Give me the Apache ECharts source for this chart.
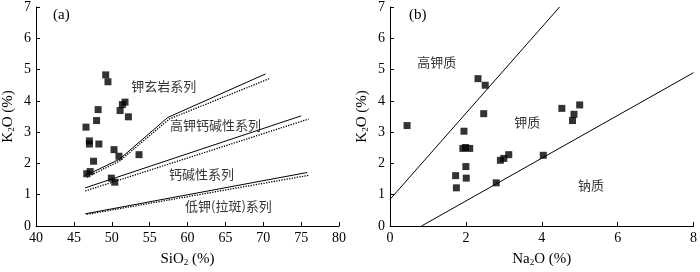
<!DOCTYPE html>
<html><head><meta charset="utf-8">
<script src="https://cdn.jsdelivr.net/npm/echarts@6/dist/echarts.min.js"></script>
<style>html,body{margin:0;padding:0;background:#fff}#c{width:700px;height:272px}</style>
</head><body><div id="c"></div>
<script>
// ---- Data (a): SiO2 vs K2O ----
const sioX = [49.2,49.5,51.75,51.4,51.1,52.2,48.2,48.0,46.6,47.05,47.05,48.3,50.3,50.95,53.6,47.6,47.15,46.7,49.95,50.4];
const k2oA = [4.83,4.61,3.96,3.88,3.69,3.49,3.72,3.37,3.16,2.72,2.62,2.62,2.44,2.23,2.28,2.07,1.74,1.67,1.53,1.40];
// boundary lines (a)
const shoSolid = [[46.5,1.61],[51.0,2.13],[57.4,3.47],[70.3,4.86]];
const shoDot   = [[46.7,1.56],[51.0,2.07],[57.6,3.42],[70.8,4.71]];
const hkSolid  = [[46.5,1.22],[75.0,3.52]];
const hkDot    = [[46.5,1.12],[76.0,3.42]];
const lkSolid  = [[46.5,0.39],[75.8,1.71]];
const lkDot    = [[46.7,0.37],[76.0,1.62]];
const labelsA  = [[56.85,4.46,'钾玄岩系列'],[63.7,3.22,'高钾钙碱性系列'],[61.85,1.67,'钙碱性系列'],[65.4,0.65,'低钾(拉斑)系列']];
// ---- Data (b): Na2O vs K2O ----
const na2oX = [0.45,2.32,2.51,2.47,1.95,1.92,1.99,2.10,2.0,1.73,2.01,1.75,2.80,2.91,3.0,3.13,4.04,4.53,5.0,4.85,4.81];
const k2oB  = [3.21,4.71,4.50,3.59,3.03,2.48,2.51,2.48,1.90,1.61,1.53,1.22,1.38,2.10,2.16,2.28,2.26,3.76,3.87,3.57,3.37];
const lineB1 = [[0,0.85],[4.47,7]];
const lineB2 = [[0.83,0],[8,4.9]];
const labelsB = [[1.23,5.23,'高钾质'],[3.62,3.31,'钾质'],[5.3,1.30,'钠质']];
const ticksA = {min:40,max:80,interval:5};
const ticksB = {min:0,max:8,interval:2};
const ticksY = {min:0,max:7,interval:1};

const serif = 'Liberation Serif, Times New Roman, serif';
const cjk = '"Noto Sans CJK SC", sans-serif';
function zip(xs, ys){ return xs.map((x,i)=>[x, ys[i]]); }
function xAxis(idx, t, nameParts){
  return {gridIndex:idx, type:'value', min:t.min, max:t.max, interval:t.interval,
    axisLine:{lineStyle:{color:'#000',width:1}}, axisTick:{inside:true,length:4,lineStyle:{color:'#000'}},
    splitLine:{show:false}, axisLabel:{color:'#000',fontFamily:serif,fontSize:14,margin:5},
    name:'{a|'+nameParts[0]+'}{s|2}{a|'+nameParts[1]+'}', nameLocation:'middle', nameGap:26,
    nameTextStyle:{rich:{a:{fontFamily:serif,fontSize:15,color:'#000'},s:{fontFamily:serif,fontSize:9,color:'#000',padding:[6,0,0,0]}}}};
}
function yAxis(idx){
  return {gridIndex:idx, type:'value', min:ticksY.min, max:ticksY.max, interval:ticksY.interval,
    axisLine:{show:true,lineStyle:{color:'#000',width:1}}, axisTick:{show:true,inside:true,length:4,lineStyle:{color:'#000'}},
    splitLine:{show:false}, axisLabel:{color:'#000',fontFamily:serif,fontSize:14,margin:5},
    name:'{a|K}{s|2}{a|O (%)}', nameLocation:'middle', nameGap:20,
    nameTextStyle:{rich:{a:{fontFamily:serif,fontSize:15,color:'#000'},s:{fontFamily:serif,fontSize:9,color:'#000',padding:[6,0,0,0]}}}};
}
function line(idx, data, type){
  return {type:'line', xAxisIndex:idx, yAxisIndex:idx, data:data, symbol:'none', silent:true,
    lineStyle:{color:'#000', width: type==='dotted'?1.3:1, type:type}, z:2};
}
function labels(idx, arr){
  return {type:'scatter', xAxisIndex:idx, yAxisIndex:idx, symbol:'circle', symbolSize:2, silent:true,
    itemStyle:{color:'rgba(255,255,255,0)'},
    data:arr.map(a=>({value:[a[0],a[1]], name:a[2]})),
    label:{show:true, position:'inside', formatter:p=>p.name, color:'#000', fontFamily:cjk, fontSize:13}, z:5};
}
function pts(idx, data){
  return {type:'scatter', xAxisIndex:idx, yAxisIndex:idx, data:data, symbol:'rect', symbolSize:7,
    itemStyle:{color:'#000'}, z:4};
}
const chart = echarts.init(document.getElementById('c'), null, {renderer:'canvas'});
chart.setOption({
  animation:false,
  title:[{text:'(a)', left:48, top:3, textStyle:{fontFamily:serif,fontSize:15,fontWeight:'normal',color:'#000'}},
         {text:'(b)', left:404, top:3, textStyle:{fontFamily:serif,fontSize:15,fontWeight:'normal',color:'#000'}}],
  grid:[{left:35, top:6, width:304, height:226},{left:390, top:6, width:305, height:226}],
  xAxis:[xAxis(0, ticksA, ['SiO',' (%)']), xAxis(1, ticksB, ['Na','O (%)'])],
  yAxis:[yAxis(0), yAxis(1)],
  series:[
    line(0, shoSolid,'solid'), line(0, shoDot,'dotted'),
    line(0, hkSolid,'solid'), line(0, hkDot,'dotted'),
    line(0, lkSolid,'solid'), line(0, lkDot,'dotted'),
    pts(0, zip(sioX,k2oA)), labels(0, labelsA),
    line(1, lineB1,'solid'), line(1, lineB2,'solid'),
    pts(1, zip(na2oX,k2oB)), labels(1, labelsB)
  ]
});
</script></body></html>
